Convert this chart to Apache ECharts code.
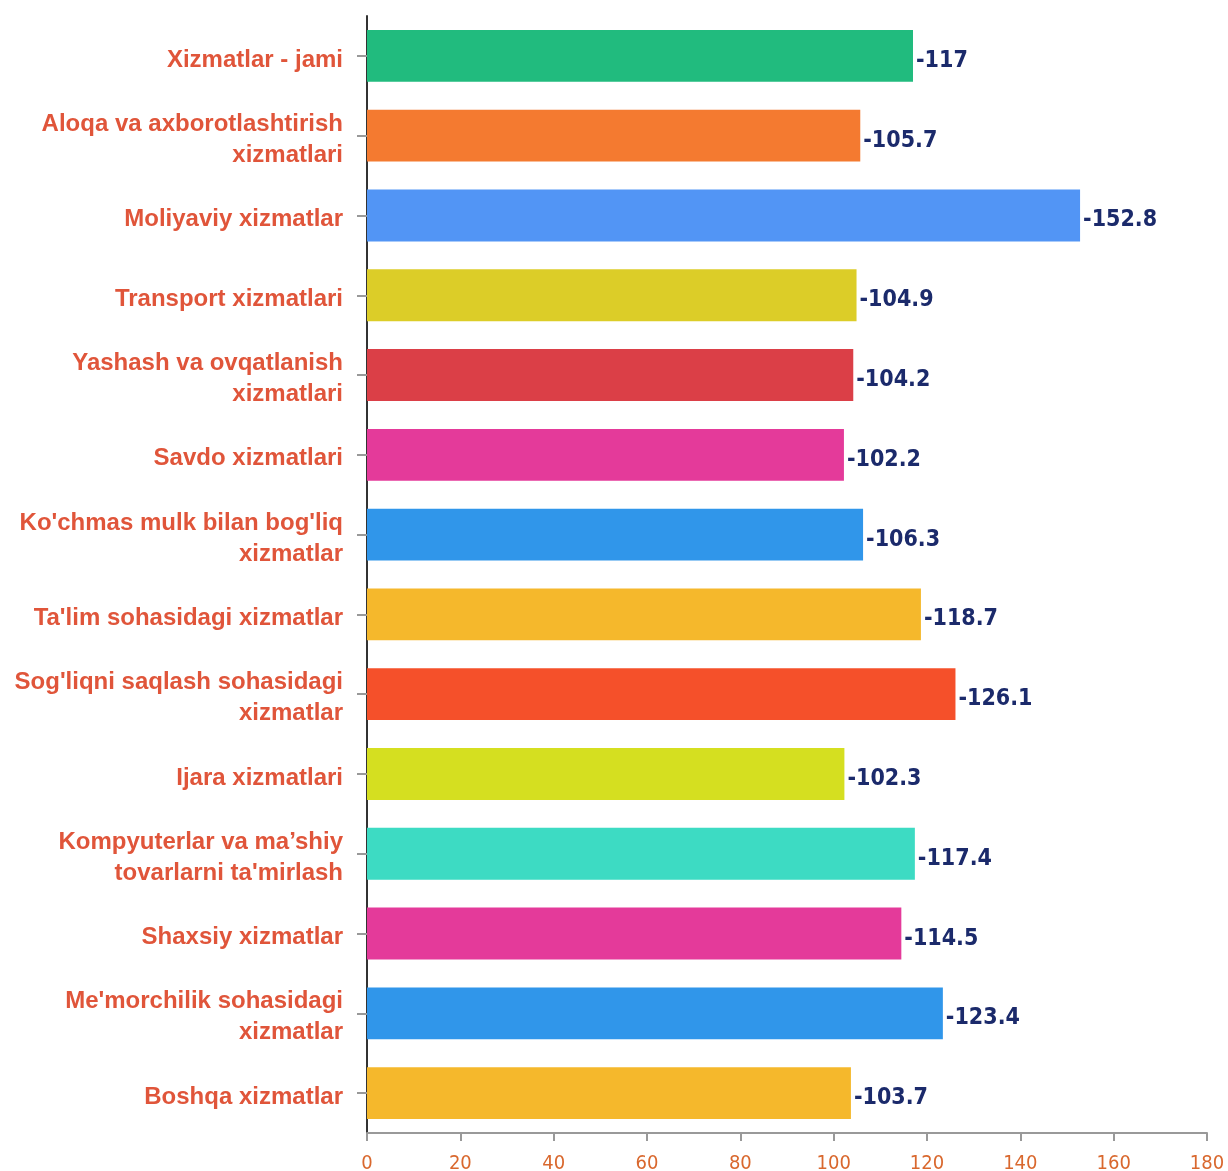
<!DOCTYPE html>
<html>
<head>
<meta charset="utf-8">
<script src="https://cdn.jsdelivr.net/npm/echarts@6/dist/echarts.min.js"></script>
<style>
html, body { margin: 0; padding: 0; background: #fff; }
#chart { width: 1228px; height: 1171px; }
</style>
</head>
<body>
<div id="chart"></div>
<script>
// kategoriyalar va qiymatlar
var categories = [
    "Xizmatlar - jami",
    "Aloqa va axborotlashtirish\nxizmatlari",
    "Moliyaviy xizmatlar",
    "Transport xizmatlari",
    "Yashash va ovqatlanish\nxizmatlari",
    "Savdo xizmatlari",
    "Ko'chmas mulk bilan bog'liq\nxizmatlar",
    "Ta'lim sohasidagi xizmatlar",
    "Sog'liqni saqlash sohasidagi\nxizmatlar",
    "Ijara xizmatlari",
    "Kompyuterlar va ma’shiy\ntovarlarni ta'mirlash",
    "Shaxsiy xizmatlar",
    "Me'morchilik sohasidagi\nxizmatlar",
    "Boshqa xizmatlar"
];
var values = [117, 105.7, 152.8, 104.9, 104.2, 102.2, 106.3, 118.7, 126.1, 102.3, 117.4, 114.5, 123.4, 103.7];
var colors = ["#21bb7e", "#f47a30", "#5295f5", "#dccd28", "#db3f47", "#e43a9a", "#3096ea",
    "#f5b82c", "#f5502a", "#d5df20", "#3ddbc3", "#e43a9a", "#3096ea", "#f5b82c"];

var narrow = "DejaVu Sans Condensed, Liberation Sans Narrow, Liberation Sans, sans-serif";

var chart = echarts.init(document.getElementById("chart"));
chart.setOption({
    animation: false,
    grid: {
        top: 16,
        bottom: 38,
        left: 367,
        right: 21,
        containLabel: false,
        outerBoundsMode: "none"
    },
    xAxis: {
        type: "value",
        min: 0,
        max: 180,
        interval: 20,
        splitLine: { show: false },
        axisLine: { show: true, lineStyle: { color: "#999", width: 2 } },
        axisTick: { show: true, length: 8, lineStyle: { color: "#999", width: 2 } },
        axisLabel: {
            color: "#d9682e",
            fontSize: 20,
            fontFamily: narrow,
            margin: 21
        }
    },
    yAxis: {
        type: "category",
        inverse: true,
        data: categories,
        axisLine: { show: true, lineStyle: { color: "#333", width: 2 } },
        axisTick: { show: true, alignWithLabel: true, length: 10, lineStyle: { color: "#999", width: 2 } },
        // nomlar pastdagi yordamchi seriya yorlig'i orqali chiqadi (biroz pastga surilgan)
        axisLabel: { show: false }
    },
    series: [
        {
            type: "bar",
            barWidth: "65%",
            barGap: "-100%",
            data: values.map(function (v, i) {
                return { value: v, itemStyle: { color: colors[i] } };
            }),
            label: {
                show: true,
                position: "right",
                distance: 3,
                offset: [0, 5],
                color: "#1b2a6b",
                fontSize: 23,
                fontWeight: "bold",
                fontFamily: narrow,
                formatter: function (p) { return "-" + p.value; }
            }
        },
        {
            // kategoriya nomlari uchun
            type: "bar",
            barWidth: "65%",
            barGap: "-100%",
            silent: true,
            data: categories.map(function () { return 0; }),
            label: {
                show: true,
                position: "left",
                distance: 24,
                offset: [0, 4],
                align: "right",
                color: "#e0553a",
                fontSize: 24,
                fontWeight: "bold",
                fontFamily: "Liberation Sans, Arial, sans-serif",
                lineHeight: 31,
                formatter: function (p) { return p.name; }
            }
        }
    ]
});
</script>
</body>
</html>
